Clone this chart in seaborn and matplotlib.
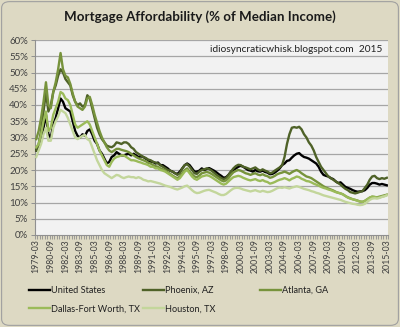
import matplotlib
matplotlib.use("Agg")
import matplotlib.pyplot as plt
import seaborn as sns
import pandas as pd
import numpy as np
from matplotlib.patches import FancyBboxPatch
from matplotlib.lines import Line2D

# quarterly categories 1979-03 .. 2015-03
quarters = [f"{1979 + i // 4}-{3 * (i % 4 + 1):02d}" for i in range(145)]

tick_labels = ["1979-03", "1980-09", "1982-03", "1983-09", "1985-03", "1986-09",
               "1988-03", "1989-09", "1991-03", "1992-09", "1994-03", "1995-09",
               "1997-03", "1998-09", "2000-03", "2001-09", "2003-03", "2004-09",
               "2006-03", "2007-09", "2009-03", "2010-09", "2012-03", "2013-09",
               "2015-03"]

us = [26, 27.5, 30, 33, 37, 31, 30, 34,
      36, 39, 42, 41, 39, 38.5, 38, 35,
      32, 30.5, 30, 31, 30.5, 32, 32.5, 31,
      29, 28, 26, 25, 23.5, 22, 22.5, 24,
      24.5, 25.5, 25, 24.5, 24.5, 24.8, 25, 24.5,
      25, 24.5, 24, 24.2, 24, 23.5, 23, 22.5,
      22.5, 22, 22.3, 21.5, 21.5, 21, 20.5, 19.8,
      19.5, 19, 18.8, 19.5, 20.5, 21.5, 22, 21.5,
      20.5, 19.5, 19.5, 19.8, 20.5, 20, 20.3, 20.6,
      20.2, 19.8, 19.3, 18.7, 18.2, 17.6, 17.8, 18.5,
      19.5, 20, 20.5, 21, 21.3, 21, 20.5, 20,
      19.8, 19.5, 20, 19.6, 19.5, 19.8, 19.4, 19.2,
      18.7, 18.8, 19.2, 19.8, 20.5, 21.5, 22, 22.8,
      23, 23.8, 24.5, 25, 25.2, 24.5, 24, 23.8,
      23.5, 23, 22.5, 22, 21, 19.5, 18.5, 18.2,
      18, 17.5, 17.2, 16.5, 16, 16.2, 15.5, 14.8,
      14.5, 14.2, 13.8, 13.5, 13.3, 13.4, 13.5, 13.8,
      14.5, 15.5, 16, 16, 15.8, 15.5, 15.7, 15.5,
      15.3]

phoenix = [26, 28, 32, 38, 44, 38, 40, 44,
           46, 49, 51, 50, 48, 47, 46, 43,
           41, 40, 40.5, 39.5, 40, 43, 42, 39,
           36, 33, 31, 29.5, 28.5, 27.5, 27.2, 27,
           27.5, 28.5, 28.3, 28, 28.5, 28.5, 28, 27,
           26.5, 25.5, 25, 24.5, 24, 23.7, 23.2, 23,
           22.5, 22.3, 22, 21.5, 21, 20.5, 20, 19.8,
           19.5, 19, 18.5, 19, 20.5, 21.5, 21.8, 21,
           20, 19, 18.8, 19.5, 20, 20.2, 20.5, 20.3,
           19.8, 19.2, 18.5, 18, 17.5, 17.2, 17.5, 18.5,
           19.5, 20.5, 21.2, 21.6, 21.5, 21, 20.8, 20.5,
           20.2, 20.5, 20.8, 20.2, 19.8, 20.2, 19.8, 19.5,
           19, 19.2, 19.8, 20.3, 20.8, 21.5, 24, 28,
           31, 33, 33.2, 33, 33.3, 32.5, 31, 30,
           28.5, 27.5, 26, 24, 22.5, 21, 20, 19,
           18, 17.5, 17, 16.5, 16, 15.5, 14.8, 14.2,
           13.8, 13.2, 13, 12.8, 13, 13.3, 13.5, 14.5,
           15.5, 17, 18, 18.2, 17.5, 17.2, 17.5, 17.3,
           17.6]

atlanta = [29.5, 32, 36, 41, 47, 40, 39, 44,
           47, 51, 56, 51, 49, 48.5, 46.5, 43.5,
           41, 39.5, 39, 38.5, 39.5, 42, 42.5, 40,
           37, 34.5, 32, 30, 28.5, 27, 26, 25.5,
           26, 26.5, 26.5, 26.2, 26, 25.8, 25.5, 25,
           24.5, 24, 23.6, 23.3, 23, 22.7, 22.2, 22,
           21.5, 21.2, 21, 20.5, 20.2, 19.8, 19.3, 18.8,
           18.3, 17.8, 17.5, 18, 19, 20, 20.5, 19.5,
           18.7, 18, 17.8, 18.3, 19, 19.2, 19.4, 19.2,
           18.8, 18.3, 17.8, 17.3, 16.8, 16.5, 16.8, 17.5,
           18.5, 19.3, 19.7, 20, 19.8, 19.4, 19, 18.8,
           18.5, 18.8, 19, 18.6, 18.4, 18.7, 18.3, 18.1,
           17.6, 17.8, 18.2, 18.7, 19, 19.2, 19.5, 19.2,
           18.8, 19.3, 19.7, 20, 19.6, 19, 18.5, 18,
           17.8, 17.5, 17, 16.5, 16, 15.5, 15, 14.6,
           14.3, 14, 13.7, 13.3, 13, 12.8, 12.5, 12,
           11.6, 11.3, 11, 10.8, 10.6, 10.3, 10.2, 10.5,
           11, 11.5, 11.8, 11.7, 11.6, 11.8, 12, 12.2,
           12.4]

dallas = [27, 28, 31, 35, 38, 32, 33, 37,
          39, 41, 44, 43.5, 42, 41.5, 40, 37,
          34, 33, 33.5, 34, 34.5, 35, 34, 32,
          30, 28, 26, 24.5, 23, 21.5, 21, 22.5,
          23.5, 24, 24.2, 24.5, 24.5, 24, 23.5, 23,
          23, 22.8, 22.5, 22.3, 22, 21.8, 21.5, 21,
          21, 20.5, 20.5, 20, 19.8, 19.5, 19, 18.5,
          18, 17.5, 17, 17.5, 18.5, 19.5, 20, 19,
          18, 17.3, 17, 17.5, 18, 18.2, 18.4, 18.2,
          17.8, 17.3, 16.8, 16.3, 15.8, 15.5, 15.8, 16.5,
          17.2, 17.8, 18, 18.2, 18, 17.6, 17.3, 17,
          16.8, 17, 17.2, 16.8, 16.6, 16.9, 16.5, 16.3,
          15.8, 16, 16.3, 16.7, 17, 17.2, 17.5, 17.2,
          16.8, 17.3, 17.6, 18, 17.8, 17.3, 17, 16.6,
          16.5, 16.2, 15.8, 15.5, 15.2, 14.8, 14.5, 14.3,
          14, 13.8, 13.5, 13.2, 13, 12.8, 12.5, 12,
          11.5, 11.2, 11, 10.8, 10.5, 10.3, 10.2, 10.5,
          11, 11.5, 11.8, 11.7, 11.5, 11.6, 11.8, 12,
          12.3]

houston = [24, 26, 28, 31, 33, 29, 29, 33,
           35, 36.5, 38.5, 38, 37.5, 36, 34, 32,
           30, 29.5, 30, 30.5, 30.8, 29.5, 29, 27,
           25, 23, 21.5, 20, 19, 18.5, 18, 17.5,
           18, 18.5, 18.3, 17.8, 17.5, 17.8, 18, 17.8,
           17.8, 17.5, 17.8, 17.5, 17, 16.8, 16.5, 16.6,
           16.4, 16.2, 16, 15.8, 15.5, 15.2, 15, 14.8,
           14.5, 14.2, 14, 14.3, 14.6, 15, 15.2, 14.5,
           13.8, 13.2, 12.9, 13, 13.3, 13.6, 13.8, 13.9,
           13.6, 13.3, 13, 12.6, 12.3, 12.3, 12.6, 13.2,
           13.8, 14.3, 14.5, 14.5, 14.3, 14, 13.8, 13.6,
           13.4, 13.6, 13.8, 13.5, 13.3, 13.6, 13.4, 13.2,
           13.3, 13.6, 14, 14.4, 14.6, 14.5, 14.7, 14.5,
           14.3, 14.6, 14.8, 15, 14.8, 14.5, 14.2, 14,
           13.8, 13.5, 13.3, 13, 12.8, 12.5, 12.2, 12,
           11.8, 11.6, 11.4, 11.2, 11, 10.8, 10.5, 10.2,
           10, 9.8, 9.6, 9.5, 9.3, 9.2, 9.3, 9.6,
           10.2, 10.8, 11.2, 11.3, 11.2, 11.4, 11.7, 11.9,
           12.2]

series_names = ["United States", "Phoenix, AZ", "Atlanta, GA",
                "Dallas-Fort Worth, TX", "Houston, TX"]
series_vals = [us, phoenix, atlanta, dallas, houston]
colors = ["#000000", "#4F6228", "#77933C", "#9BBB59", "#C3D69B"]

rows = []
for name, vals in zip(series_names, series_vals):
    for i, v in enumerate(vals):
        rows.append({"idx": i, "quarter": quarters[i], "value": v, "series": name})
df = pd.DataFrame(rows)

plt.rcParams["font.family"] = ["Lato", "DejaVu Sans"]

BG = "#DDD9C3"
fig = plt.figure(figsize=(4.0, 3.27), dpi=100, facecolor=BG)
ax = fig.add_axes([35 / 400, 1 - 235 / 327, 353 / 400, 195 / 327])
ax.set_facecolor("#F2F2F2")

for y in range(5, 65, 5):
    ax.axhline(y, color="#A6A6A6", lw=0.9, zorder=0)

sns.lineplot(data=df, x="idx", y="value", hue="series", hue_order=series_names,
             palette=colors, lw=1.7, ax=ax, legend=False, zorder=3)

ax.set_xlim(-0.5, 144.5)
ax.set_ylim(0, 60)
ax.set_yticks(range(0, 65, 5))
ax.set_yticklabels([f"{v}%" for v in range(0, 65, 5)], fontsize=7, color="#404040")
ax.set_xticks([quarters.index(t) for t in tick_labels])
ax.set_xticklabels(tick_labels, rotation=90, fontsize=6.3, color="#404040")
ax.set_xticks(np.arange(-0.5, 145, 1), minor=True)
ax.tick_params(axis="x", which="major", length=0, pad=3)
ax.tick_params(axis="x", which="minor", length=3, color="#909090", width=0.6)
ax.tick_params(axis="y", length=3, color="#909090", width=0.7, pad=2)
ax.set_xlabel("")
ax.set_ylabel("")
for s in ["top", "right"]:
    ax.spines[s].set_visible(False)
for s in ["left", "bottom"]:
    ax.spines[s].set_color("#909090")
    ax.spines[s].set_linewidth(0.8)

ax.text(0.985, 0.975, "idiosyncraticwhisk.blogspot.com  2015", transform=ax.transAxes,
        ha="right", va="top", fontsize=7.3, color="#202020", zorder=5)

fig.text(0.5, 1 - 17 / 327, "Mortgage Affordability (% of Median Income)",
         ha="center", va="center", fontsize=9.6, fontweight="bold", color="#1a1a1a")

handles = {n: Line2D([], [], color=c, lw=1.7) for n, c in zip(series_names, colors)}
cols = [(29, ["United States", "Dallas-Fort Worth, TX"]),
        (143, ["Phoenix, AZ", "Houston, TX"]),
        (260, ["Atlanta, GA"])]
for x0, names in cols:
    fig.legend([handles[n] for n in names], names, loc="upper left",
               bbox_to_anchor=(x0 / 400, 1 - 286 / 327), frameon=False,
               fontsize=6.6, handlelength=2.3, handletextpad=0.15,
               borderpad=0, borderaxespad=0, labelspacing=1.05,
               labelcolor="#202020")

border = FancyBboxPatch((0.004, 0.005), 0.992, 0.99, boxstyle="round,pad=0,rounding_size=0.02",
                        transform=fig.transFigure, facecolor="none",
                        edgecolor="#A0A0A0", lw=0.8)
fig.patches.append(border)

fig.savefig("out.png", dpi=100, facecolor=BG)
